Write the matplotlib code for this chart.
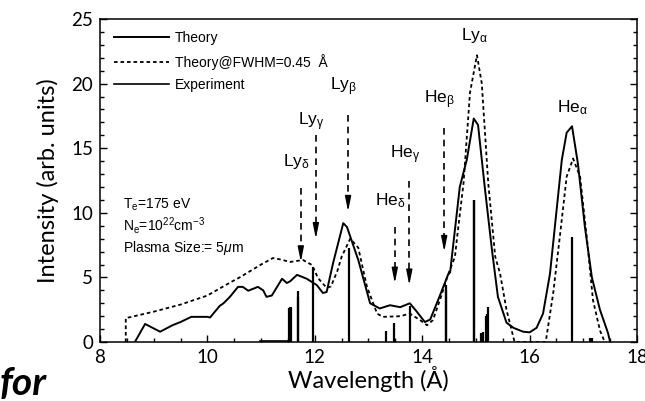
import matplotlib
matplotlib.use('Agg')
import matplotlib.pyplot as plt
from matplotlib.ticker import MultipleLocator
import numpy as np

plt.rcParams['mathtext.fontset'] = 'custom'
plt.rcParams['mathtext.rm'] = 'Liberation Sans'
plt.rcParams['mathtext.it'] = 'Liberation Sans:italic'

# Teoria (linea continua)
theory_x = [8.65, 8.84, 9.12, 9.35, 9.5, 9.7, 10.0, 10.05, 10.23, 10.3, 10.42, 10.57,
            10.66, 10.76, 10.94, 11.04, 11.1, 11.2, 11.39, 11.48, 11.54, 11.67, 11.85,
            12.04, 12.15, 12.22, 12.34, 12.53, 12.6, 12.81, 13.03, 13.21, 13.4, 13.59,
            13.77, 13.9, 14.05, 14.15, 14.33, 14.48, 14.52, 14.7, 14.83, 14.96, 15.04,
            15.17, 15.3, 15.41, 15.45, 15.57, 15.7, 15.88, 16.0, 16.13, 16.25, 16.38,
            16.6, 16.69, 16.79, 16.9, 17.03, 17.16, 17.31, 17.46, 17.5]
theory_y = [0, 1.4, 0.8, 1.3, 1.55, 1.95, 1.95, 1.9, 2.8, 3.0, 3.5, 4.27,
            4.27, 3.97, 4.27, 4.0, 3.5, 3.6, 4.9, 4.57, 4.7, 5.2, 4.9,
            4.4, 3.8, 3.87, 6.1, 9.2, 8.9, 6.35, 3.0, 2.6, 2.85, 2.7,
            3.0, 2.35, 1.55, 1.75, 3.6, 5.2, 5.4, 12.0, 14.1, 17.3, 16.8,
            11.8, 7.1, 3.5, 3.0, 1.5, 1.1, 0.8, 0.75, 1.1, 2.2, 5.3,
            14.1, 16.2, 16.7, 13.8, 8.9, 5.0, 2.5, 0.7, 0]

# Teoria convolucionada (FWHM = 0.45 A)
fwhm_x = [8.48, 8.48, 9.0, 9.5, 10.0, 10.42, 10.6, 11.0, 11.22, 11.35, 11.54, 11.78,
          11.95, 12.06, 12.22, 12.3, 12.42, 12.5, 12.66, 12.81, 12.97, 13.16, 13.27,
          13.59, 13.77, 13.96, 14.09, 14.2, 14.35, 14.48, 14.61, 14.65, 14.77, 14.89,
          15.02, 15.11, 15.23, 15.36, 15.45, 15.57, 15.72, 16.3, 16.44, 16.57, 16.69,
          16.81, 16.94, 17.07, 17.18, 17.31, 17.4]
fwhm_y = [0, 1.85, 2.35, 2.9, 3.6, 4.6, 5.0, 6.0, 6.5, 6.4, 6.2, 6.35,
          5.96, 4.95, 4.2, 4.3, 5.5, 6.6, 8.0, 7.3, 4.3, 2.2, 1.95,
          2.0, 2.2, 1.7, 1.3, 1.7, 3.5, 5.2, 6.6, 8.1, 12.3, 19.3,
          22.2, 20.0, 12.3, 6.6, 5.3, 2.5, 0, 0, 3.8, 8.4, 12.8,
          14.2, 12.8, 7.9, 3.25, 0.9, 0]

# Experimento (lineas)
exp_x = [11.52, 11.535, 11.55, 11.68, 11.69, 11.97, 12.63, 13.33, 13.47, 13.77,
         14.44, 14.45, 14.96, 14.97, 15.1, 15.13, 15.18, 15.2, 15.23, 16.79, 17.13, 17.16]
exp_h = [2.6, 2.7, 2.75, 3.95, 3.5, 5.8, 7.3, 0.85, 1.5, 2.8,
         4.4, 4.0, 11.0, 11.0, 0.7, 0.8, 2.0, 2.2, 2.7, 8.1, 0.3, 0.3]
exp_plateau_x = [10.98, 11.52]
exp_plateau_y = [0.12, 0.12]

# Lineas espectrales: etiqueta, posicion, inicio y punta de la flecha, texto
lines_lbl = [r'Ly$_{\mathrm{\delta}}$', r'Ly$_{\mathrm{\gamma}}$', r'Ly$_{\mathrm{\beta}}$',
             r'He$_{\mathrm{\delta}}$', r'He$_{\mathrm{\gamma}}$', r'He$_{\mathrm{\beta}}$']
lines_x = [11.74, 12.02, 12.62, 13.49, 13.76, 14.41]
lines_top = [11.9, 16.0, 17.6, 8.9, 12.5, 16.6]
lines_tip = [6.2, 8.0, 10.1, 4.55, 4.4, 7.0]
lines_lbl_y = [13.2, 16.2, 18.9, 10.2, 13.6, 17.9]
peak_lbl = [r'Ly$_{\mathrm{\alpha}}$', r'He$_{\mathrm{\alpha}}$']
peak_x = [14.98, 16.8]
peak_y = [23.0, 17.4]

fig = plt.figure(figsize=(6.45, 4.01), dpi=100)
ax = fig.add_axes([0.155, 0.147, 0.8326, 0.8056])

ax.plot(theory_x, theory_y, color='black', lw=1.4, label='Theory')
ax.plot(fwhm_x, fwhm_y, color='black', lw=1.3, linestyle=(0, (2, 1.6)),
        label='Theory@FWHM=0.45  Å')
ax.plot(exp_plateau_x, exp_plateau_y, color='black', lw=1.2, label='Experiment')
ax.vlines(exp_x, 0, exp_h, color='black', lw=1.6)

for lbl, x, top, tip, ly in zip(lines_lbl, lines_x, lines_top, lines_tip, lines_lbl_y):
    ax.plot([x, x], [top, tip + 0.9], color='black', lw=1.2, linestyle=(0, (4, 3)))
    ax.annotate('', xy=(x, tip), xytext=(x, tip + 1.0),
                arrowprops=dict(arrowstyle='-|>,head_length=0.9,head_width=0.18',
                                color='black', lw=1.0, shrinkA=0, shrinkB=0))
    ax.text(x - 0.08, ly, lbl, ha='center', va='bottom', fontsize=12.5,
            family='Liberation Sans')

for lbl, x, y in zip(peak_lbl, peak_x, peak_y):
    ax.text(x, y, lbl, ha='center', va='bottom', fontsize=12.5, family='Liberation Sans')

ax.text(8.43, 10.3, r'T$_{\mathrm{e}}$=175 eV', fontsize=10, family='Liberation Sans')
ax.text(8.43, 8.6, r'N$_{\mathrm{e}}$=10$^{22}$cm$^{-3}$', fontsize=10,
        family='Liberation Sans')
ax.text(8.43, 7.0, r'Plasma Size:= 5$\mu$m', fontsize=10, family='Liberation Sans')

ax.legend(loc='upper left', bbox_to_anchor=(0.027, 0.962), frameon=False,
          prop={'family': 'Liberation Sans', 'size': 10}, handlelength=3.9,
          handletextpad=0.45, labelspacing=0.6, borderpad=0, borderaxespad=0)

ax.set_xlim(8, 18)
ax.set_ylim(0, 25)
ax.xaxis.set_major_locator(MultipleLocator(2))
ax.xaxis.set_minor_locator(MultipleLocator(0.5))
ax.yaxis.set_major_locator(MultipleLocator(5))
ax.yaxis.set_minor_locator(MultipleLocator(1))
ax.tick_params(which='both', direction='in', right=True, top=False, width=1.0)
ax.tick_params(which='major', length=5, labelsize=13.5, pad=5)
ax.tick_params(which='minor', length=3)
for lab in ax.get_xticklabels() + ax.get_yticklabels():
    lab.set_family('Lato')
for s in ax.spines.values():
    s.set_linewidth(1.1)

ax.set_xlabel('Wavelength (Å)', fontsize=17, family='Lato', labelpad=0)
ax.set_ylabel('Intensity (arb. units)', fontsize=17, family='Lato', labelpad=9)

fig.text(0.0, 0.015, 'for', fontsize=28, fontweight='bold', style='italic',
         family='Lato')

fig.savefig('out.png', dpi=100)
